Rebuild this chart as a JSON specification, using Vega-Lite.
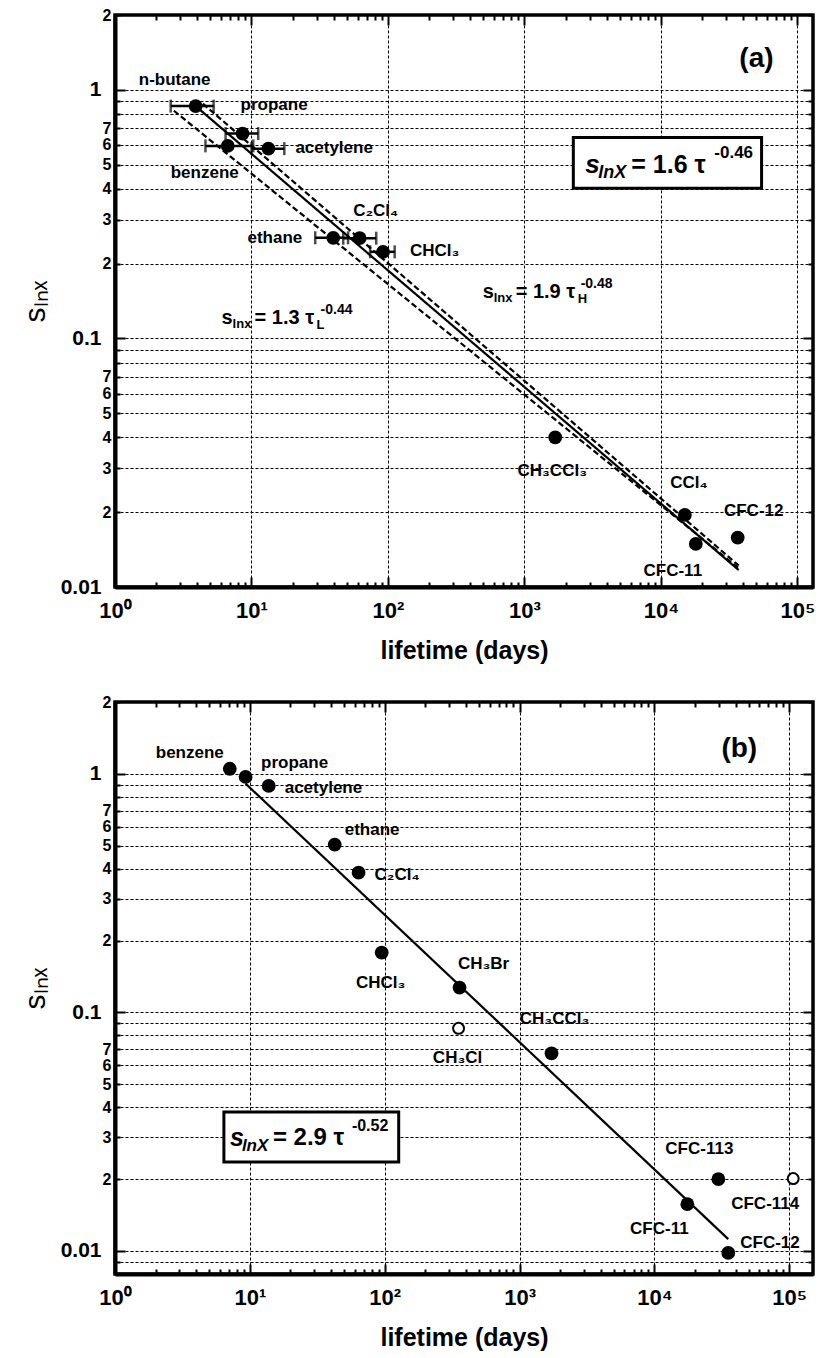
{
"$schema":"https://vega.github.io/schema/vega-lite/v6.json",
"background":"white",
"padding":{"left":18,"top":5,"right":5,"bottom":3},
"spacing":27,
"datasets":{
"pa":[
{"name":"n-butane","x":3.9,"y":0.86,"lo":2.56,"hi":5.28},
{"name":"propane","x":8.6,"y":0.667,"lo":6.46,"hi":11.2},
{"name":"benzene","x":6.7,"y":0.595,"lo":4.6,"hi":10.3},
{"name":"acetylene","x":13.3,"y":0.58,"lo":10.0,"hi":17.4},
{"name":"ethane","x":39.7,"y":0.254,"lo":29.3,"hi":51},
{"name":"C₂Cl₄","x":62,"y":0.253,"lo":47,"hi":82},
{"name":"CHCl₃","x":92,"y":0.223,"lo":74,"hi":112},
{"name":"CH₃CCl₃","x":1680,"y":0.040},
{"name":"CCl₄","x":14960,"y":0.0195},
{"name":"CFC-11","x":18000,"y":0.0149},
{"name":"CFC-12","x":36500,"y":0.0158}
],
"pb":[
{"name":"benzene","x":7.1,"y":1.05,"inFit":true},
{"name":"propane","x":9.3,"y":0.97,"inFit":true},
{"name":"acetylene","x":13.8,"y":0.89,"inFit":true},
{"name":"ethane","x":42.6,"y":0.505,"inFit":true},
{"name":"C₂Cl₄","x":64,"y":0.385,"inFit":true},
{"name":"CHCl₃","x":95,"y":0.178,"inFit":true},
{"name":"CH₃Br","x":359,"y":0.127,"inFit":true},
{"name":"CH₃Cl","x":353,"y":0.0857,"inFit":false},
{"name":"CH₃CCl₃","x":1726,"y":0.0673,"inFit":true},
{"name":"CFC-113","x":29800,"y":0.0200,"inFit":true},
{"name":"CFC-114","x":107000,"y":0.0201,"inFit":false},
{"name":"CFC-11","x":17550,"y":0.0157,"inFit":true},
{"name":"CFC-12","x":35300,"y":0.0098,"inFit":true}
],
"la":[
{"line":"central","x":3.9,"y":0.86},
{"line":"central","x":37100,"y":0.0117},
{"line":"upper","x":4.4,"y":0.88},
{"line":"upper","x":37100,"y":0.0122},
{"line":"lower","x":2.7,"y":0.824},
{"line":"lower","x":37100,"y":0.0119}
],
"lb":[
{"line":"central","x":9.3,"y":0.91},
{"line":"central","x":35300,"y":0.0112}
]
},
"vconcat":[
{
"width":698,"height":572,
"resolve":{"axis":{"x":"independent","y":"independent"}},
"layer":[
{"data":{"values":[{}]},"mark":{"type":"rect","fill":"white","stroke":"black","strokeWidth":3},
"encoding":{"x":{"datum":2280,"type":"quantitative","scale":{"type":"log","domain":[1,130000],"nice":false},"axis":null},"x2":{"datum":54600},
"y":{"datum":0.643,"type":"quantitative","scale":{"type":"log","domain":[0.01,2],"nice":false},"axis":null},"y2":{"datum":0.402}}},
{"data":{"name":"la"},"mark":{"type":"line","color":"black","strokeWidth":2.2},
"encoding":{
"x":{"field":"x","type":"quantitative","scale":{"type":"log","domain":[1,130000],"nice":false},
"axis":{"orient":"top","values":[1,2,3,4,5,6,7,8,9,10,20,30,40,50,60,70,80,90,100,200,300,400,500,600,700,800,900,1000,2000,3000,4000,5000,6000,7000,8000,9000,10000,20000,30000,40000,50000,60000,70000,80000,90000,100000],"labels":false,"grid":false,"domain":false,"title":null,
"tickSize":{"condition":{"test":"abs(log(datum.value)/LN10 - round(log(datum.value)/LN10)) < 0.001","value":-10},"value":-5}}},
"y":{"field":"y","type":"quantitative","scale":{"type":"log","domain":[0.01,2],"nice":false},
"axis":{"orient":"right","values":[0.01,0.02,0.03,0.04,0.05,0.06,0.07,0.08,0.09,0.1,0.2,0.3,0.4,0.5,0.6,0.7,0.8,0.9,1,2],"labels":false,"grid":false,"domain":false,"title":null,
"tickSize":{"condition":{"test":"round(datum.value / pow(10, floor(log(datum.value)/LN10 + 0.0001))) == 1","value":-10},"value":-5}}},
"detail":{"field":"line"},
"strokeDash":{"field":"line","type":"nominal","scale":{"domain":["central","upper","lower"],"range":[[1,0],[6,3],[6,3]]},"legend":null}}},
{"data":{"name":"pa"},"transform":[{"filter":"isValid(datum.lo)"}],"mark":{"type":"rule","color":"black","strokeWidth":2.5},
"encoding":{"x":{"field":"lo","type":"quantitative","scale":{"type":"log","domain":[1,130000],"nice":false},"axis":null},"x2":{"field":"hi"},
"y":{"field":"y","type":"quantitative","scale":{"type":"log","domain":[0.01,2],"nice":false},"axis":null}}},
{"data":{"name":"pa"},"transform":[{"filter":"isValid(datum.lo)"}],"mark":{"type":"tick","orient":"vertical","color":"black","size":13,"thickness":2.5},
"encoding":{"x":{"field":"lo","type":"quantitative","scale":{"type":"log","domain":[1,130000],"nice":false},"axis":null},
"y":{"field":"y","type":"quantitative","scale":{"type":"log","domain":[0.01,2],"nice":false},"axis":null}}},
{"data":{"name":"pa"},"transform":[{"filter":"isValid(datum.hi)"}],"mark":{"type":"tick","orient":"vertical","color":"black","size":13,"thickness":2.5},
"encoding":{"x":{"field":"hi","type":"quantitative","scale":{"type":"log","domain":[1,130000],"nice":false},"axis":null},
"y":{"field":"y","type":"quantitative","scale":{"type":"log","domain":[0.01,2],"nice":false},"axis":null}}},
{"data":{"name":"pa"},"mark":{"type":"circle","size":190,"color":"black","opacity":1},
"encoding":{
"x":{"field":"x","type":"quantitative","scale":{"type":"log","domain":[1,130000],"nice":false},
"axis":{"orient":"bottom","values":[1,2,3,4,5,6,7,8,9,10,20,30,40,50,60,70,80,90,100,200,300,400,500,600,700,800,900,1000,2000,3000,4000,5000,6000,7000,8000,9000,10000,20000,30000,40000,50000,60000,70000,80000,90000,100000],
"labelExpr":"abs(log(datum.value)/LN10 - round(log(datum.value)/LN10)) < 0.001 ? '10' + (round(log(datum.value)/LN10) == 0 ? '⁰' : round(log(datum.value)/LN10) == 1 ? '¹' : round(log(datum.value)/LN10) == 2 ? '²' : round(log(datum.value)/LN10) == 3 ? '³' : round(log(datum.value)/LN10) == 4 ? '⁴' : '⁵') : ''",
"grid":true,"gridOpacity":{"condition":{"test":"abs(log(datum.value)/LN10 - round(log(datum.value)/LN10)) < 0.001","value":1},"value":0},
"tickSize":{"condition":{"test":"abs(log(datum.value)/LN10 - round(log(datum.value)/LN10)) < 0.001","value":-10},"value":-5},
"labelPadding":23,"labelFontSize":22,"title":"lifetime (days)","titlePadding":12}},
"y":{"field":"y","type":"quantitative","scale":{"type":"log","domain":[0.01,2],"nice":false},
"axis":{"orient":"left","values":[0.01,0.02,0.03,0.04,0.05,0.06,0.07,0.08,0.09,0.1,0.2,0.3,0.4,0.5,0.6,0.7,0.8,0.9,1,2],
"labelExpr":"round(datum.value / pow(10, floor(log(datum.value)/LN10 + 0.0001))) == 1 ? format(datum.value, '~g') : round(datum.value / pow(10, floor(log(datum.value)/LN10 + 0.0001))) <= 7 ? format(round(datum.value / pow(10, floor(log(datum.value)/LN10 + 0.0001))), 'd') : ''",
"grid":true,
"tickSize":{"condition":{"test":"round(datum.value / pow(10, floor(log(datum.value)/LN10 + 0.0001))) == 1","value":-10},"value":-5},
"labelPadding":{"condition":{"test":"round(datum.value / pow(10, floor(log(datum.value)/LN10 + 0.0001))) == 1","value":24},"value":9},
"labelFontSize":{"condition":{"test":"round(datum.value / pow(10, floor(log(datum.value)/LN10 + 0.0001))) == 1","value":21},"value":16},
"title":"sₗₙₓ","titleFontSize":30,"titleFontWeight":"normal","titlePadding":10}}}},
{"data":{"name":"pa"},"transform":[{"filter":{"field":"name","oneOf":["n-butane"]}}],"mark":{"type":"text","align":"center","baseline":"middle","fontSize":17,"dx":-21,"dy":-26},
"encoding":{"x":{"field":"x","type":"quantitative","scale":{"type":"log","domain":[1,130000],"nice":false},"axis":null},"y":{"field":"y","type":"quantitative","scale":{"type":"log","domain":[0.01,2],"nice":false},"axis":null},"text":{"field":"name"}}},
{"data":{"name":"pa"},"transform":[{"filter":{"field":"name","oneOf":["propane"]}}],"mark":{"type":"text","align":"left","baseline":"middle","fontSize":17,"dx":-2,"dy":-29},
"encoding":{"x":{"field":"x","type":"quantitative","scale":{"type":"log","domain":[1,130000],"nice":false},"axis":null},"y":{"field":"y","type":"quantitative","scale":{"type":"log","domain":[0.01,2],"nice":false},"axis":null},"text":{"field":"name"}}},
{"data":{"name":"pa"},"transform":[{"filter":{"field":"name","oneOf":["acetylene","CHCl₃"]}}],"mark":{"type":"text","align":"left","baseline":"middle","fontSize":17,"dx":27,"dy":-1},
"encoding":{"x":{"field":"x","type":"quantitative","scale":{"type":"log","domain":[1,130000],"nice":false},"axis":null},"y":{"field":"y","type":"quantitative","scale":{"type":"log","domain":[0.01,2],"nice":false},"axis":null},"text":{"field":"name"}}},
{"data":{"name":"pa"},"transform":[{"filter":{"field":"name","oneOf":["benzene","CFC-11"]}}],"mark":{"type":"text","align":"center","baseline":"middle","fontSize":17,"dx":-23,"dy":27},
"encoding":{"x":{"field":"x","type":"quantitative","scale":{"type":"log","domain":[1,130000],"nice":false},"axis":null},"y":{"field":"y","type":"quantitative","scale":{"type":"log","domain":[0.01,2],"nice":false},"axis":null},"text":{"field":"name"}}},
{"data":{"name":"pa"},"transform":[{"filter":{"field":"name","oneOf":["C₂Cl₄","CFC-12"]}}],"mark":{"type":"text","align":"center","baseline":"middle","fontSize":17,"dx":16,"dy":-27},
"encoding":{"x":{"field":"x","type":"quantitative","scale":{"type":"log","domain":[1,130000],"nice":false},"axis":null},"y":{"field":"y","type":"quantitative","scale":{"type":"log","domain":[0.01,2],"nice":false},"axis":null},"text":{"field":"name"}}},
{"data":{"name":"pa"},"transform":[{"filter":{"field":"name","oneOf":["ethane"]}}],"mark":{"type":"text","align":"right","baseline":"middle","fontSize":17,"dx":-31,"dy":0},
"encoding":{"x":{"field":"x","type":"quantitative","scale":{"type":"log","domain":[1,130000],"nice":false},"axis":null},"y":{"field":"y","type":"quantitative","scale":{"type":"log","domain":[0.01,2],"nice":false},"axis":null},"text":{"field":"name"}}},
{"data":{"name":"pa"},"transform":[{"filter":{"field":"name","oneOf":["CH₃CCl₃"]}}],"mark":{"type":"text","align":"center","baseline":"middle","fontSize":17,"dx":-3,"dy":34},
"encoding":{"x":{"field":"x","type":"quantitative","scale":{"type":"log","domain":[1,130000],"nice":false},"axis":null},"y":{"field":"y","type":"quantitative","scale":{"type":"log","domain":[0.01,2],"nice":false},"axis":null},"text":{"field":"name"}}},
{"data":{"name":"pa"},"transform":[{"filter":{"field":"name","oneOf":["CCl₄"]}}],"mark":{"type":"text","align":"center","baseline":"middle","fontSize":17,"dx":4,"dy":-32},
"encoding":{"x":{"field":"x","type":"quantitative","scale":{"type":"log","domain":[1,130000],"nice":false},"axis":null},"y":{"field":"y","type":"quantitative","scale":{"type":"log","domain":[0.01,2],"nice":false},"axis":null},"text":{"field":"name"}}},
{"data":{"values":[{}]},"mark":{"type":"text","text":"(a)","align":"center","baseline":"middle","fontSize":28},
"encoding":{"x":{"datum":50100,"type":"quantitative","scale":{"type":"log","domain":[1,130000],"nice":false},"axis":null},"y":{"datum":1.33,"type":"quantitative","scale":{"type":"log","domain":[0.01,2],"nice":false},"axis":null}}},
{"data":{"values":[{}]},"mark":{"type":"text","text":"s","align":"left","baseline":"middle","fontSize":26,"fontStyle":"italic","dx":0,"dy":0},
"encoding":{"x":{"datum":2790,"type":"quantitative","scale":{"type":"log","domain":[1,130000],"nice":false},"axis":null},"y":{"datum":0.497,"type":"quantitative","scale":{"type":"log","domain":[0.01,2],"nice":false},"axis":null}}},
{"data":{"values":[{}]},"mark":{"type":"text","text":"lnX","align":"left","baseline":"middle","fontSize":18,"fontStyle":"italic","dx":13,"dy":8},
"encoding":{"x":{"datum":2790,"type":"quantitative","scale":{"type":"log","domain":[1,130000],"nice":false},"axis":null},"y":{"datum":0.497,"type":"quantitative","scale":{"type":"log","domain":[0.01,2],"nice":false},"axis":null}}},
{"data":{"values":[{}]},"mark":{"type":"text","text":"= 1.6 τ","align":"left","baseline":"middle","fontSize":25,"dx":46,"dy":0},
"encoding":{"x":{"datum":2790,"type":"quantitative","scale":{"type":"log","domain":[1,130000],"nice":false},"axis":null},"y":{"datum":0.497,"type":"quantitative","scale":{"type":"log","domain":[0.01,2],"nice":false},"axis":null}}},
{"data":{"values":[{}]},"mark":{"type":"text","text":"-0.46","align":"left","baseline":"middle","fontSize":17,"dx":129,"dy":-12},
"encoding":{"x":{"datum":2790,"type":"quantitative","scale":{"type":"log","domain":[1,130000],"nice":false},"axis":null},"y":{"datum":0.497,"type":"quantitative","scale":{"type":"log","domain":[0.01,2],"nice":false},"axis":null}}},
{"data":{"values":[{}]},"mark":{"type":"text","text":"s","align":"left","baseline":"middle","fontSize":20,"dx":0,"dy":0},
"encoding":{"x":{"datum":494,"type":"quantitative","scale":{"type":"log","domain":[1,130000],"nice":false},"axis":null},"y":{"datum":0.154,"type":"quantitative","scale":{"type":"log","domain":[0.01,2],"nice":false},"axis":null}}},
{"data":{"values":[{}]},"mark":{"type":"text","text":"lnx","align":"left","baseline":"middle","fontSize":13,"dx":11,"dy":6},
"encoding":{"x":{"datum":494,"type":"quantitative","scale":{"type":"log","domain":[1,130000],"nice":false},"axis":null},"y":{"datum":0.154,"type":"quantitative","scale":{"type":"log","domain":[0.01,2],"nice":false},"axis":null}}},
{"data":{"values":[{}]},"mark":{"type":"text","text":"= 1.9 τ","align":"left","baseline":"middle","fontSize":20,"dx":33,"dy":0},
"encoding":{"x":{"datum":494,"type":"quantitative","scale":{"type":"log","domain":[1,130000],"nice":false},"axis":null},"y":{"datum":0.154,"type":"quantitative","scale":{"type":"log","domain":[0.01,2],"nice":false},"axis":null}}},
{"data":{"values":[{}]},"mark":{"type":"text","text":"H","align":"left","baseline":"middle","fontSize":13,"dx":95,"dy":7},
"encoding":{"x":{"datum":494,"type":"quantitative","scale":{"type":"log","domain":[1,130000],"nice":false},"axis":null},"y":{"datum":0.154,"type":"quantitative","scale":{"type":"log","domain":[0.01,2],"nice":false},"axis":null}}},
{"data":{"values":[{}]},"mark":{"type":"text","text":"-0.48","align":"left","baseline":"middle","fontSize":14,"dx":98,"dy":-8},
"encoding":{"x":{"datum":494,"type":"quantitative","scale":{"type":"log","domain":[1,130000],"nice":false},"axis":null},"y":{"datum":0.154,"type":"quantitative","scale":{"type":"log","domain":[0.01,2],"nice":false},"axis":null}}},
{"data":{"values":[{}]},"mark":{"type":"text","text":"s","align":"left","baseline":"middle","fontSize":20,"dx":0,"dy":0},
"encoding":{"x":{"datum":6.04,"type":"quantitative","scale":{"type":"log","domain":[1,130000],"nice":false},"axis":null},"y":{"datum":0.1205,"type":"quantitative","scale":{"type":"log","domain":[0.01,2],"nice":false},"axis":null}}},
{"data":{"values":[{}]},"mark":{"type":"text","text":"lnx","align":"left","baseline":"middle","fontSize":13,"dx":11,"dy":6},
"encoding":{"x":{"datum":6.04,"type":"quantitative","scale":{"type":"log","domain":[1,130000],"nice":false},"axis":null},"y":{"datum":0.1205,"type":"quantitative","scale":{"type":"log","domain":[0.01,2],"nice":false},"axis":null}}},
{"data":{"values":[{}]},"mark":{"type":"text","text":"= 1.3 τ","align":"left","baseline":"middle","fontSize":20,"dx":33,"dy":0},
"encoding":{"x":{"datum":6.04,"type":"quantitative","scale":{"type":"log","domain":[1,130000],"nice":false},"axis":null},"y":{"datum":0.1205,"type":"quantitative","scale":{"type":"log","domain":[0.01,2],"nice":false},"axis":null}}},
{"data":{"values":[{}]},"mark":{"type":"text","text":"L","align":"left","baseline":"middle","fontSize":13,"dx":95,"dy":7},
"encoding":{"x":{"datum":6.04,"type":"quantitative","scale":{"type":"log","domain":[1,130000],"nice":false},"axis":null},"y":{"datum":0.1205,"type":"quantitative","scale":{"type":"log","domain":[0.01,2],"nice":false},"axis":null}}},
{"data":{"values":[{}]},"mark":{"type":"text","text":"-0.44","align":"left","baseline":"middle","fontSize":14,"dx":99,"dy":-8},
"encoding":{"x":{"datum":6.04,"type":"quantitative","scale":{"type":"log","domain":[1,130000],"nice":false},"axis":null},"y":{"datum":0.1205,"type":"quantitative","scale":{"type":"log","domain":[0.01,2],"nice":false},"axis":null}}}
]
},
{
"width":698,"height":572,
"resolve":{"axis":{"x":"independent","y":"independent"}},
"layer":[
{"data":{"values":[{}]},"mark":{"type":"rect","fill":"white","stroke":"black","strokeWidth":3},
"encoding":{"x":{"datum":6.42,"type":"quantitative","scale":{"type":"log","domain":[1,150000],"nice":false},"axis":null},"x2":{"datum":127},
"y":{"datum":0.0382,"type":"quantitative","scale":{"type":"log","domain":[0.008,2],"nice":false},"axis":null},"y2":{"datum":0.0236}}},
{"data":{"name":"lb"},"mark":{"type":"line","color":"black","strokeWidth":2.2},
"encoding":{
"x":{"field":"x","type":"quantitative","scale":{"type":"log","domain":[1,150000],"nice":false},
"axis":{"orient":"top","values":[1,2,3,4,5,6,7,8,9,10,20,30,40,50,60,70,80,90,100,200,300,400,500,600,700,800,900,1000,2000,3000,4000,5000,6000,7000,8000,9000,10000,20000,30000,40000,50000,60000,70000,80000,90000,100000],"labels":false,"grid":false,"domain":false,"title":null,
"tickSize":{"condition":{"test":"abs(log(datum.value)/LN10 - round(log(datum.value)/LN10)) < 0.001","value":-10},"value":-5}}},
"y":{"field":"y","type":"quantitative","scale":{"type":"log","domain":[0.008,2],"nice":false},
"axis":{"orient":"right","values":[0.008,0.009,0.01,0.02,0.03,0.04,0.05,0.06,0.07,0.08,0.09,0.1,0.2,0.3,0.4,0.5,0.6,0.7,0.8,0.9,1,2],"labels":false,"grid":false,"domain":false,"title":null,
"tickSize":{"condition":{"test":"round(datum.value / pow(10, floor(log(datum.value)/LN10 + 0.0001))) == 1","value":-10},"value":-5}}},
"detail":{"field":"line"}}},
{"data":{"name":"pb"},"transform":[{"filter":"datum.inFit"}],"mark":{"type":"circle","size":190,"color":"black","opacity":1},
"encoding":{
"x":{"field":"x","type":"quantitative","scale":{"type":"log","domain":[1,150000],"nice":false},
"axis":{"orient":"bottom","values":[1,2,3,4,5,6,7,8,9,10,20,30,40,50,60,70,80,90,100,200,300,400,500,600,700,800,900,1000,2000,3000,4000,5000,6000,7000,8000,9000,10000,20000,30000,40000,50000,60000,70000,80000,90000,100000],
"labelExpr":"abs(log(datum.value)/LN10 - round(log(datum.value)/LN10)) < 0.001 ? '10' + (round(log(datum.value)/LN10) == 0 ? '⁰' : round(log(datum.value)/LN10) == 1 ? '¹' : round(log(datum.value)/LN10) == 2 ? '²' : round(log(datum.value)/LN10) == 3 ? '³' : round(log(datum.value)/LN10) == 4 ? '⁴' : '⁵') : ''",
"grid":true,"gridOpacity":{"condition":{"test":"abs(log(datum.value)/LN10 - round(log(datum.value)/LN10)) < 0.001","value":1},"value":0},
"tickSize":{"condition":{"test":"abs(log(datum.value)/LN10 - round(log(datum.value)/LN10)) < 0.001","value":-10},"value":-5},
"labelPadding":23,"labelFontSize":22,"title":"lifetime (days)","titlePadding":12}},
"y":{"field":"y","type":"quantitative","scale":{"type":"log","domain":[0.008,2],"nice":false},
"axis":{"orient":"left","values":[0.008,0.009,0.01,0.02,0.03,0.04,0.05,0.06,0.07,0.08,0.09,0.1,0.2,0.3,0.4,0.5,0.6,0.7,0.8,0.9,1,2],
"labelExpr":"round(datum.value / pow(10, floor(log(datum.value)/LN10 + 0.0001))) == 1 ? format(datum.value, '~g') : round(datum.value / pow(10, floor(log(datum.value)/LN10 + 0.0001))) <= 7 ? format(round(datum.value / pow(10, floor(log(datum.value)/LN10 + 0.0001))), 'd') : ''",
"grid":true,
"tickSize":{"condition":{"test":"round(datum.value / pow(10, floor(log(datum.value)/LN10 + 0.0001))) == 1","value":-10},"value":-5},
"labelPadding":{"condition":{"test":"round(datum.value / pow(10, floor(log(datum.value)/LN10 + 0.0001))) == 1","value":24},"value":9},
"labelFontSize":{"condition":{"test":"round(datum.value / pow(10, floor(log(datum.value)/LN10 + 0.0001))) == 1","value":21},"value":16},
"title":"sₗₙₓ","titleFontSize":30,"titleFontWeight":"normal","titlePadding":10}}}},
{"data":{"name":"pb"},"transform":[{"filter":"!datum.inFit"}],"mark":{"type":"circle","size":120,"fill":"white","stroke":"black","strokeWidth":2,"opacity":1},
"encoding":{"x":{"field":"x","type":"quantitative","scale":{"type":"log","domain":[1,150000],"nice":false},"axis":null},"y":{"field":"y","type":"quantitative","scale":{"type":"log","domain":[0.008,2],"nice":false},"axis":null}}},
{"data":{"name":"pb"},"transform":[{"filter":{"field":"name","oneOf":["benzene"]}}],"mark":{"type":"text","align":"center","baseline":"middle","fontSize":17,"dx":-40,"dy":-16},
"encoding":{"x":{"field":"x","type":"quantitative","scale":{"type":"log","domain":[1,150000],"nice":false},"axis":null},"y":{"field":"y","type":"quantitative","scale":{"type":"log","domain":[0.008,2],"nice":false},"axis":null},"text":{"field":"name"}}},
{"data":{"name":"pb"},"transform":[{"filter":{"field":"name","oneOf":["propane"]}}],"mark":{"type":"text","align":"center","baseline":"middle","fontSize":17,"dx":49,"dy":-14},
"encoding":{"x":{"field":"x","type":"quantitative","scale":{"type":"log","domain":[1,150000],"nice":false},"axis":null},"y":{"field":"y","type":"quantitative","scale":{"type":"log","domain":[0.008,2],"nice":false},"axis":null},"text":{"field":"name"}}},
{"data":{"name":"pb"},"transform":[{"filter":{"field":"name","oneOf":["acetylene","C₂Cl₄"]}}],"mark":{"type":"text","align":"left","baseline":"middle","fontSize":17,"dx":16,"dy":2},
"encoding":{"x":{"field":"x","type":"quantitative","scale":{"type":"log","domain":[1,150000],"nice":false},"axis":null},"y":{"field":"y","type":"quantitative","scale":{"type":"log","domain":[0.008,2],"nice":false},"axis":null},"text":{"field":"name"}}},
{"data":{"name":"pb"},"transform":[{"filter":{"field":"name","oneOf":["ethane"]}}],"mark":{"type":"text","align":"left","baseline":"middle","fontSize":17,"dx":10,"dy":-15},
"encoding":{"x":{"field":"x","type":"quantitative","scale":{"type":"log","domain":[1,150000],"nice":false},"axis":null},"y":{"field":"y","type":"quantitative","scale":{"type":"log","domain":[0.008,2],"nice":false},"axis":null},"text":{"field":"name"}}},
{"data":{"name":"pb"},"transform":[{"filter":{"field":"name","oneOf":["CHCl₃","CH₃Cl"]}}],"mark":{"type":"text","align":"center","baseline":"middle","fontSize":17,"dx":-1,"dy":30},
"encoding":{"x":{"field":"x","type":"quantitative","scale":{"type":"log","domain":[1,150000],"nice":false},"axis":null},"y":{"field":"y","type":"quantitative","scale":{"type":"log","domain":[0.008,2],"nice":false},"axis":null},"text":{"field":"name"}}},
{"data":{"name":"pb"},"transform":[{"filter":{"field":"name","oneOf":["CH₃Br"]}}],"mark":{"type":"text","align":"center","baseline":"middle","fontSize":17,"dx":24,"dy":-24},
"encoding":{"x":{"field":"x","type":"quantitative","scale":{"type":"log","domain":[1,150000],"nice":false},"axis":null},"y":{"field":"y","type":"quantitative","scale":{"type":"log","domain":[0.008,2],"nice":false},"axis":null},"text":{"field":"name"}}},
{"data":{"name":"pb"},"transform":[{"filter":{"field":"name","oneOf":["CH₃CCl₃"]}}],"mark":{"type":"text","align":"center","baseline":"middle","fontSize":17,"dx":3,"dy":-34},
"encoding":{"x":{"field":"x","type":"quantitative","scale":{"type":"log","domain":[1,150000],"nice":false},"axis":null},"y":{"field":"y","type":"quantitative","scale":{"type":"log","domain":[0.008,2],"nice":false},"axis":null},"text":{"field":"name"}}},
{"data":{"name":"pb"},"transform":[{"filter":{"field":"name","oneOf":["CFC-113"]}}],"mark":{"type":"text","align":"center","baseline":"middle","fontSize":17,"dx":-19,"dy":-30},
"encoding":{"x":{"field":"x","type":"quantitative","scale":{"type":"log","domain":[1,150000],"nice":false},"axis":null},"y":{"field":"y","type":"quantitative","scale":{"type":"log","domain":[0.008,2],"nice":false},"axis":null},"text":{"field":"name"}}},
{"data":{"name":"pb"},"transform":[{"filter":{"field":"name","oneOf":["CFC-114","CFC-11"]}}],"mark":{"type":"text","align":"center","baseline":"middle","fontSize":17,"dx":-28,"dy":25},
"encoding":{"x":{"field":"x","type":"quantitative","scale":{"type":"log","domain":[1,150000],"nice":false},"axis":null},"y":{"field":"y","type":"quantitative","scale":{"type":"log","domain":[0.008,2],"nice":false},"axis":null},"text":{"field":"name"}}},
{"data":{"name":"pb"},"transform":[{"filter":{"field":"name","oneOf":["CFC-12"]}}],"mark":{"type":"text","align":"left","baseline":"middle","fontSize":17,"dx":12,"dy":-10},
"encoding":{"x":{"field":"x","type":"quantitative","scale":{"type":"log","domain":[1,150000],"nice":false},"axis":null},"y":{"field":"y","type":"quantitative","scale":{"type":"log","domain":[0.008,2],"nice":false},"axis":null},"text":{"field":"name"}}},
{"data":{"values":[{}]},"mark":{"type":"text","text":"(b)","align":"center","baseline":"middle","fontSize":28},
"encoding":{"x":{"datum":42600,"type":"quantitative","scale":{"type":"log","domain":[1,150000],"nice":false},"axis":null},"y":{"datum":1.27,"type":"quantitative","scale":{"type":"log","domain":[0.008,2],"nice":false},"axis":null}}},
{"data":{"values":[{}]},"mark":{"type":"text","text":"s","align":"left","baseline":"middle","fontSize":25,"fontStyle":"italic","dx":0,"dy":0},
"encoding":{"x":{"datum":7.11,"type":"quantitative","scale":{"type":"log","domain":[1,150000],"nice":false},"axis":null},"y":{"datum":0.0297,"type":"quantitative","scale":{"type":"log","domain":[0.008,2],"nice":false},"axis":null}}},
{"data":{"values":[{}]},"mark":{"type":"text","text":"lnX","align":"left","baseline":"middle","fontSize":17,"fontStyle":"italic","dx":12,"dy":8},
"encoding":{"x":{"datum":7.11,"type":"quantitative","scale":{"type":"log","domain":[1,150000],"nice":false},"axis":null},"y":{"datum":0.0297,"type":"quantitative","scale":{"type":"log","domain":[0.008,2],"nice":false},"axis":null}}},
{"data":{"values":[{}]},"mark":{"type":"text","text":"= 2.9 τ","align":"left","baseline":"middle","fontSize":24,"dx":43,"dy":0},
"encoding":{"x":{"datum":7.11,"type":"quantitative","scale":{"type":"log","domain":[1,150000],"nice":false},"axis":null},"y":{"datum":0.0297,"type":"quantitative","scale":{"type":"log","domain":[0.008,2],"nice":false},"axis":null}}},
{"data":{"values":[{}]},"mark":{"type":"text","text":"-0.52","align":"left","baseline":"middle","fontSize":16,"dx":122,"dy":-12},
"encoding":{"x":{"datum":7.11,"type":"quantitative","scale":{"type":"log","domain":[1,150000],"nice":false},"axis":null},"y":{"datum":0.0297,"type":"quantitative","scale":{"type":"log","domain":[0.008,2],"nice":false},"axis":null}}}
]
}
],
"config":{
"font":"Liberation Sans",
"view":{"stroke":"black","strokeWidth":3.5},
"mark":{"color":"black"},
"text":{"font":"Liberation Sans","fontWeight":"bold","fill":"black"},
"axis":{"domainColor":"black","domainWidth":4,"tickColor":"black","tickWidth":2,"gridColor":"black","gridDash":[3,2],"gridWidth":1,
"labelFont":"Liberation Sans","labelFontWeight":"bold","labelColor":"black","labelOverlap":false,"labelFlush":false,"labelAngle":0,
"titleFont":"Liberation Sans","titleFontWeight":"bold","titleColor":"black","titleFontSize":25}
}
}
